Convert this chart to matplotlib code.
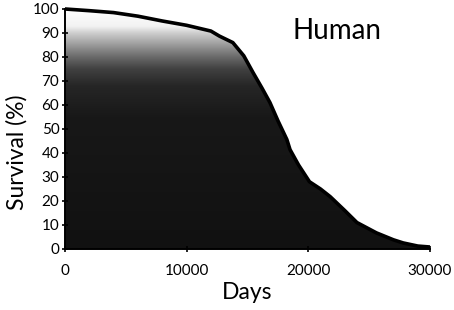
import matplotlib
matplotlib.use('Agg')
import matplotlib.pyplot as plt
import numpy as np
from matplotlib.colors import LinearSegmentedColormap

# survival curve
days = [0, 2000, 4000, 6000, 8000, 10000, 12000, 12700, 13800, 14700, 15450,
        16200, 16850, 17500, 18240, 18500, 19200, 20100, 21000, 21800, 23000,
        24000, 25600, 27000, 27800, 29000, 30000]
survival = [100, 99.3, 98.5, 97, 95, 93.2, 90.8, 88.7, 86, 80.5, 73.6,
            67, 61, 53.5, 45.6, 41.4, 35, 28, 25, 21.8, 16, 11, 6.7, 3.8, 2.5, 1.2, 0.8]

x_ticks = [0, 10000, 20000, 30000]
y_ticks = [0, 10, 20, 30, 40, 50, 60, 70, 80, 90, 100]

font = 'Lato'
plt.rcParams['font.family'] = [font, 'DejaVu Sans']

fig = plt.figure(figsize=(4.54, 3.10), dpi=100)
ax = fig.add_axes([0.143, 0.197, 0.804, 0.774])

# gradient fill under the curve: white at the top, near black below ~70
cmap = LinearSegmentedColormap.from_list(
    'surv', [(0.0, '#111111'), (0.55, '#181818'), (0.68, '#262626'),
             (0.75, '#404040'), (0.8, '#686868'), (0.85, '#999999'),
             (0.9, '#cccccc'), (0.93, '#f2f2f2'), (1.0, '#ffffff')])
grad = np.linspace(0, 1, 256).reshape(-1, 1)
im = ax.imshow(grad, extent=[0, 30000, 0, 100], origin='lower', aspect='auto',
               cmap=cmap, vmin=0, vmax=1, zorder=1)
poly = ax.fill_between(days, 0, survival, color='none', lw=0)
clip = poly.get_paths()[0]
im.set_clip_path(clip, transform=ax.transData)

ax.plot(days, survival, color='black', lw=2.6, zorder=3, clip_on=False,
        solid_capstyle='butt')

ax.set_xlim(0, 30000)
ax.set_ylim(0, 100)
ax.set_xticks(x_ticks)
ax.set_yticks(y_ticks)
ax.tick_params(labelsize=11, length=4, width=1.2, direction='inout', pad=9)
ax.tick_params(axis='y', pad=2)
for s in ['top', 'right']:
    ax.spines[s].set_visible(False)
for s in ['left', 'bottom']:
    ax.spines[s].set_linewidth(1.4)

ax.set_xlabel('Days', fontsize=16.5, labelpad=3)
# y label sits below the axes centre in the original
fig.text(0.036, 0.51, 'Survival (%)', fontsize=16.5, rotation=90,
         ha='center', va='center')
ax.text(0.745, 0.91, 'Human', transform=ax.transAxes, fontsize=20,
        ha='center', va='center')

fig.savefig('out.png', dpi=100)
